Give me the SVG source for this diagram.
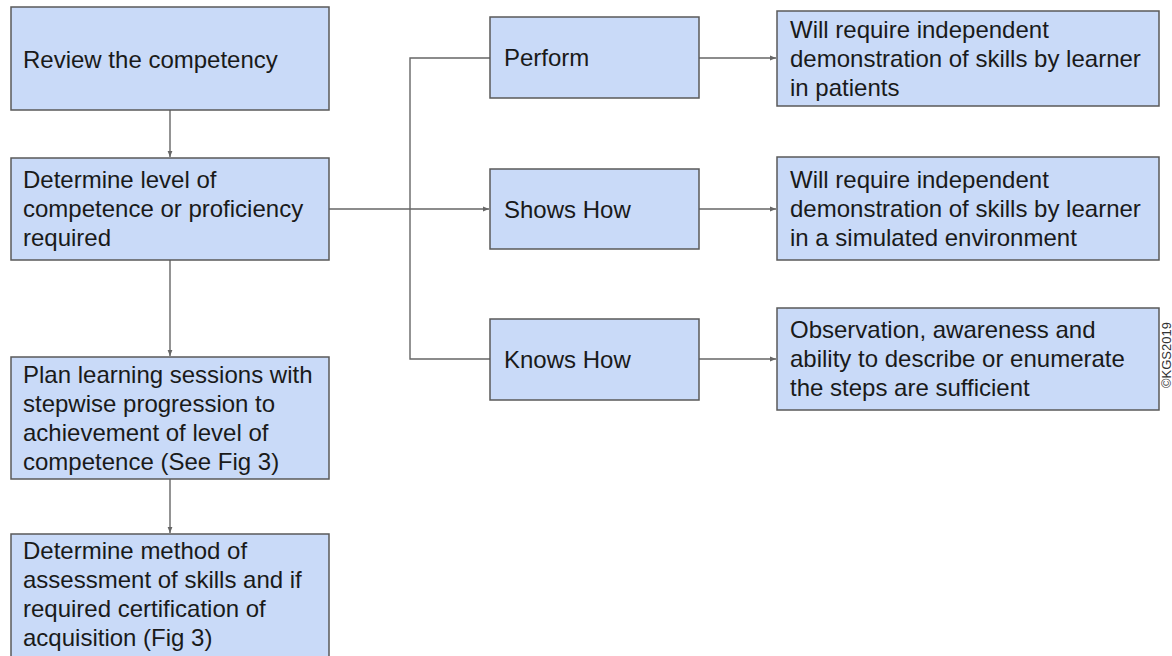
<svg xmlns="http://www.w3.org/2000/svg" width="1172" height="656" viewBox="0 0 1172 656">
<style>
.box{fill:#c9daf8;stroke:#595959;stroke-width:1.5}
.t{font-family:"Liberation Sans",Arial,sans-serif;font-size:24px;fill:#1a1a1a}
.c{fill:none;stroke:#666666;stroke-width:1.4}
.cp{font-family:"Liberation Sans",Arial,sans-serif;font-size:13px;fill:#333333}
</style>
<defs>
<marker id="ah" viewBox="0 0 10 10" refX="10" refY="5" markerWidth="6" markerHeight="6" markerUnits="userSpaceOnUse" orient="auto">
<path d="M0,1 L10,5 L0,9 Z" fill="#666666"/>
</marker>
</defs>
<rect width="1172" height="656" fill="#ffffff"/>
<g id="connectors">
<path class="c" d="M170,110 V157" marker-end="url(#ah)"/>
<path class="c" d="M170,260 V356" marker-end="url(#ah)"/>
<path class="c" d="M170,479 V533" marker-end="url(#ah)"/>
<path class="c" d="M329,209 H489" marker-end="url(#ah)"/>
<path class="c" d="M490,58 H410 V359 H490"/>
<path class="c" d="M699,58 H776" marker-end="url(#ah)"/>
<path class="c" d="M699,209 H776" marker-end="url(#ah)"/>
<path class="c" d="M699,359 H776" marker-end="url(#ah)"/>
</g>
<g id="review">
<rect class="box" x="11" y="7" width="318" height="103"/>
<text class="t" x="23" y="68">Review the competency</text>
</g>
<g id="determine-level">
<rect class="box" x="11" y="158" width="318" height="102"/>
<text class="t" x="23" y="188">Determine level of</text>
<text class="t" x="23" y="217">competence or proficiency</text>
<text class="t" x="23" y="246">required</text>
</g>
<g id="plan">
<rect class="box" x="11" y="357" width="318" height="122"/>
<text class="t" x="23" y="383">Plan learning sessions with</text>
<text class="t" x="23" y="412">stepwise progression to</text>
<text class="t" x="23" y="441">achievement of level of</text>
<text class="t" x="23" y="470">competence (See Fig 3)</text>
</g>
<g id="assessment">
<rect class="box" x="11" y="534" width="318" height="126"/>
<text class="t" x="23" y="559">Determine method of</text>
<text class="t" x="23" y="588">assessment of skills and if</text>
<text class="t" x="23" y="617">required certification of</text>
<text class="t" x="23" y="646">acquisition (Fig 3)</text>
</g>
<g id="perform">
<rect class="box" x="490" y="17" width="209" height="81"/>
<text class="t" x="504" y="66">Perform</text>
</g>
<g id="shows-how">
<rect class="box" x="490" y="169" width="209" height="80"/>
<text class="t" x="504" y="218">Shows How</text>
</g>
<g id="knows-how">
<rect class="box" x="490" y="319" width="209" height="81"/>
<text class="t" x="504" y="368">Knows How</text>
</g>
<g id="perform-desc">
<rect class="box" x="777" y="11" width="382" height="95"/>
<text class="t" x="790" y="38">Will require independent</text>
<text class="t" x="790" y="67">demonstration of skills by learner</text>
<text class="t" x="790" y="96">in patients</text>
</g>
<g id="shows-desc">
<rect class="box" x="777" y="157" width="382" height="103"/>
<text class="t" x="790" y="188">Will require independent</text>
<text class="t" x="790" y="217">demonstration of skills by learner</text>
<text class="t" x="790" y="246">in a simulated environment</text>
</g>
<g id="knows-desc">
<rect class="box" x="777" y="308" width="382" height="102"/>
<text class="t" x="790" y="338">Observation, awareness and</text>
<text class="t" x="790" y="367">ability to describe or enumerate</text>
<text class="t" x="790" y="396">the steps are sufficient</text>
</g>
<text class="cp" transform="translate(1171,388) rotate(-90)">©KGS2019</text>
</svg>
